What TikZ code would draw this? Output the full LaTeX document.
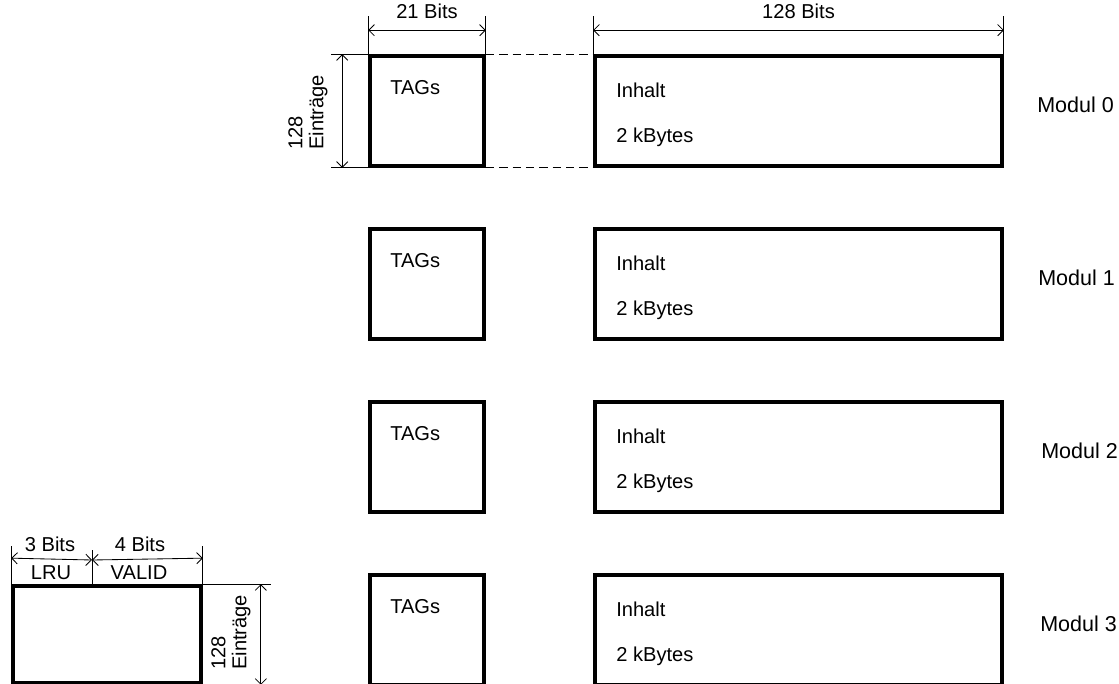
\documentclass[tikz,border=0pt]{standalone}
\usepackage{fontspec}
\setmainfont{Liberation Sans}
\usetikzlibrary{positioning, calc, arrows.meta}
\tikzset{
    tag box/.style={draw, line width=2.6pt, minimum width=2.85cm, minimum height=2.75cm, inner sep=0pt},
    data box/.style={draw, line width=2.6pt, minimum width=10.175cm, minimum height=2.75cm, inner sep=0pt},
    lru box/.style={draw, line width=2.6pt, minimum width=4.7cm, minimum height=2.425cm, inner sep=0pt},
    dim line/.style={line width=0.6pt, {Straight Barb[length=4pt,width=8pt]}-{Straight Barb[length=4pt,width=8pt]}},
    help line/.style={line width=0.6pt},
    box label/.style={font=\fontsize{14.3}{16}\selectfont, inner sep=0pt, anchor=west},
    dim label/.style={font=\fontsize{14.3}{15}\selectfont, inner sep=0pt},
    modul label/.style={font=\fontsize{15.3}{18}\selectfont, inner sep=0pt, anchor=west},
}

\begin{document}
\begin{tikzpicture}[x=0.025cm, y=-0.025cm]
    \useasboundingbox (0,0) rectangle (1119,684);
    \clip (0,0) rectangle (1119,684);

    % four modules
    \foreach \i/\y/\mx in {0/111/1037, 1/284/1038, 2/457/1041, 3/630/1040} {
        \node[tag box] (tag\i) at (427,\y) {};
        \node[data box] (data\i) at (798.5,\y) {};
        \node[box label] (tagtext\i) at (390,\y-23) {TAGs};
        \node[box label] (inhalt\i) at (616,\y-21) {Inhalt};
        \node[box label] (size\i) at (616,\y+26) {2 kBytes};
        \node[modul label] (modul\i) at (\mx,\y-6) {Modul \i};
    }

    % dimensions of module 0
    \draw[help line] (tag0.north west) -- ++(0,-38);
    \draw[help line] (tag0.north east) -- ++(0,-38);
    \draw[help line] (data0.north west) -- ++(0,-38);
    \draw[help line] (data0.north east) -- ++(0,-38);
    \draw[dim line] ($(tag0.north west)+(0,-24)$) -- ($(tag0.north east)+(0,-24)$)
        node[dim label, midway, above=0.28cm] (tagbits) {21 Bits};
    \draw[dim line] ($(data0.north west)+(0,-24)$) -- ($(data0.north east)+(0,-24)$)
        node[dim label, midway, above=0.28cm] (databits) {128 Bits};
    \draw[help line, dash pattern=on 6pt off 3.5pt] (tag0.north east) -- (data0.north west);
    \draw[help line, dash pattern=on 6pt off 3.5pt] (tag0.south east) -- (data0.south west);
    \draw[help line] (tag0.north west) -- ++(-37,0);
    \draw[help line] (tag0.south west) -- ++(-37,0);
    \draw[dim line] ($(tag0.north west)+(-26,0)$) -- ($(tag0.south west)+(-26,0)$);
    \node[dim label, rotate=90, anchor=west, align=left] (eintraege) at (308,150) {128\\Einträge};

    % LRU / VALID field
    \node[lru box] (lru) at (107,634.5) {};
    \coordinate (split) at (92,586);
    \draw[help line] (lru.north west) -- ++(0,-38);
    \draw[help line] (split) -- ++(0,-36);
    \draw[help line] (lru.north east) -- ++(0,-38);
    \draw[dim line] ($(lru.north west)+(0,-26)$) -- ($(split)+(0,-26)$);
    \draw[dim line] ($(split)+(0,-26)$) -- ($(lru.north east)+(0,-26)$);
    \node[dim label] (lrubits) at (50,544) {3 Bits};
    \node[dim label] (validbits) at (140,544) {4 Bits};
    \node[dim label] (lrutext) at (51,573) {LRU};
    \node[dim label] (validtext) at (139,573) {VALID};
    \draw[help line] (lru.north east) -- ++(68,0);
    \draw[help line] (lru.south east) -- ++(68,0);
    \draw[dim line] ($(lru.north east)+(58,0)$) -- ($(lru.south east)+(58,0)$);
    \node[dim label, rotate=90, anchor=west, align=left] (lrueintraege) at (231,670) {128\\Einträge};
\end{tikzpicture}
\end{document}
